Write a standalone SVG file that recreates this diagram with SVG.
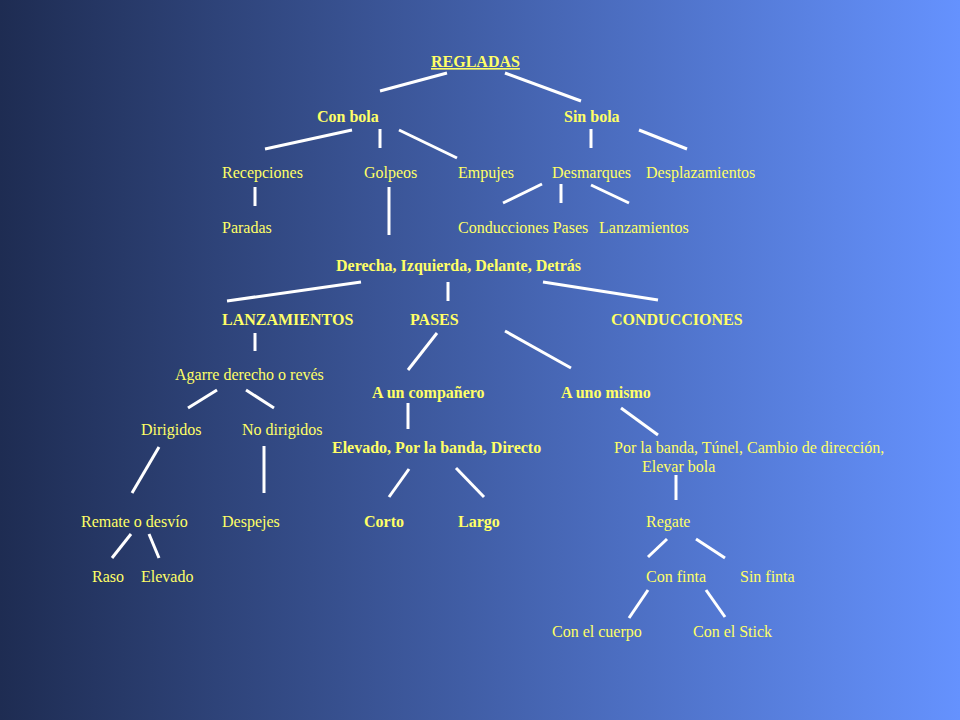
<svg xmlns="http://www.w3.org/2000/svg" width="960" height="720" viewBox="0 0 960 720">
  <defs>
    <linearGradient id="bg" x1="0" y1="0" x2="1" y2="0">
      <stop offset="0" stop-color="#1e2c52"/>
      <stop offset="1" stop-color="#6592fe"/>
    </linearGradient>
    <style>
      text { font-family: "Liberation Serif", "Times New Roman", serif; font-size: 16px; fill: #ffff66; }
      .b { font-weight: bold; }
      .u { text-decoration: underline; }
      #connectors line { stroke: #ffffff; stroke-width: 3; stroke-linecap: butt; }
    </style>
  </defs>
  <rect x="0" y="0" width="960" height="720" fill="url(#bg)"/>

  <g id="connectors">
    <line x1="380" y1="91" x2="447" y2="73"/>
    <line x1="505" y1="73" x2="581" y2="101"/>
    <line x1="265" y1="149" x2="352" y2="130"/>
    <line x1="380" y1="129" x2="380" y2="148"/>
    <line x1="399" y1="130" x2="457" y2="158"/>
    <line x1="591" y1="129" x2="591" y2="148"/>
    <line x1="639" y1="130" x2="687" y2="149"/>
    <line x1="255" y1="187" x2="255" y2="206"/>
    <line x1="389" y1="187" x2="389" y2="235"/>
    <line x1="503" y1="203" x2="542" y2="184"/>
    <line x1="561" y1="184" x2="561" y2="203"/>
    <line x1="591" y1="185" x2="629" y2="203"/>
    <line x1="227" y1="301" x2="361" y2="282"/>
    <line x1="448" y1="282" x2="448" y2="301"/>
    <line x1="543" y1="282" x2="658" y2="300"/>
    <line x1="255" y1="333" x2="255" y2="351"/>
    <line x1="437" y1="333" x2="408" y2="370"/>
    <line x1="505" y1="331" x2="571" y2="368"/>
    <line x1="217" y1="390" x2="188" y2="408"/>
    <line x1="246" y1="390" x2="274" y2="408"/>
    <line x1="408" y1="403" x2="408" y2="429"/>
    <line x1="621" y1="408" x2="658" y2="435"/>
    <line x1="159" y1="447" x2="132" y2="493"/>
    <line x1="264" y1="446" x2="264" y2="493"/>
    <line x1="409" y1="469" x2="389" y2="497"/>
    <line x1="456" y1="468" x2="484" y2="497"/>
    <line x1="676" y1="475" x2="676" y2="500"/>
    <line x1="131" y1="534" x2="112" y2="558"/>
    <line x1="149" y1="534" x2="159" y2="558"/>
    <line x1="667" y1="539" x2="648" y2="557"/>
    <line x1="696" y1="539" x2="725" y2="558"/>
    <line x1="648" y1="590" x2="629" y2="618"/>
    <line x1="706" y1="590" x2="725" y2="617"/>
  </g>

  <g id="regladas"><text class="b u" x="431" y="67">REGLADAS</text></g>
  <g id="con-bola"><text class="b" x="317" y="122">Con bola</text></g>
  <g id="sin-bola"><text class="b" x="564" y="122">Sin bola</text></g>
  <g id="recepciones"><text x="222" y="178">Recepciones</text></g>
  <g id="golpeos"><text x="364" y="178">Golpeos</text></g>
  <g id="empujes"><text x="458" y="178">Empujes</text></g>
  <g id="desmarques"><text x="552" y="178">Desmarques</text></g>
  <g id="desplazamientos"><text x="646" y="178">Desplazamientos</text></g>
  <g id="paradas"><text x="222" y="233">Paradas</text></g>
  <g id="conducciones-pases"><text x="458" y="233">Conducciones Pases</text></g>
  <g id="lanzamientos-sin"><text x="599" y="233">Lanzamientos</text></g>
  <g id="direcciones"><text class="b" x="336" y="271">Derecha, Izquierda, Delante, Detrás</text></g>
  <g id="lanzamientos"><text class="b" x="222" y="325">LANZAMIENTOS</text></g>
  <g id="pases"><text class="b" x="410" y="325">PASES</text></g>
  <g id="conducciones"><text class="b" x="611" y="325">CONDUCCIONES</text></g>
  <g id="agarre"><text x="175" y="380">Agarre derecho o revés</text></g>
  <g id="a-un-companero"><text class="b" x="372" y="398">A un compañero</text></g>
  <g id="a-uno-mismo"><text class="b" x="561" y="398">A uno mismo</text></g>
  <g id="dirigidos"><text x="141" y="435">Dirigidos</text></g>
  <g id="no-dirigidos"><text x="242" y="435">No dirigidos</text></g>
  <g id="elevado-banda-directo"><text class="b" x="332" y="453">Elevado, Por la banda, Directo</text></g>
  <g id="por-la-banda"><text x="614" y="453">Por la banda, Túnel, Cambio de dirección,</text><text x="642" y="472">Elevar bola</text></g>
  <g id="remate"><text x="81" y="527">Remate o desvío</text></g>
  <g id="despejes"><text x="222" y="527">Despejes</text></g>
  <g id="corto"><text class="b" x="364" y="527">Corto</text></g>
  <g id="largo"><text class="b" x="458" y="527">Largo</text></g>
  <g id="regate"><text x="646" y="527">Regate</text></g>
  <g id="raso"><text x="92" y="582">Raso</text></g>
  <g id="elevado"><text x="141" y="582">Elevado</text></g>
  <g id="con-finta"><text x="646" y="582">Con finta</text></g>
  <g id="sin-finta"><text x="740" y="582">Sin finta</text></g>
  <g id="con-el-cuerpo"><text x="552" y="637">Con el cuerpo</text></g>
  <g id="con-el-stick"><text x="693" y="637">Con el Stick</text></g>
</svg>
